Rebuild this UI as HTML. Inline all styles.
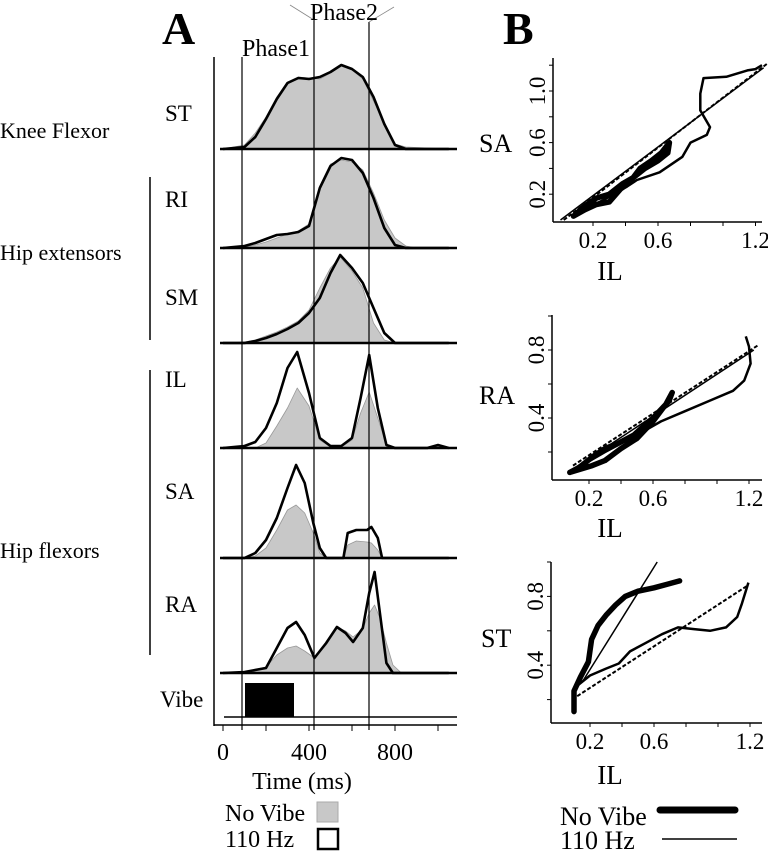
<!DOCTYPE html>
<html><head><meta charset="utf-8"><style>
html,body{margin:0;padding:0;background:#fff;}
svg{display:block;font-family:"Liberation Serif",serif;}
</style></head><body>
<svg id="fig" width="768" height="853" viewBox="0 0 768 853" xmlns="http://www.w3.org/2000/svg">
<g id="A">
<text x="162" y="44" font-size="46" font-weight="bold">A</text>
<text x="0" y="138" font-size="22">Knee Flexor</text>
<text x="0" y="260" font-size="22">Hip extensors</text>
<text x="0" y="558" font-size="22">Hip flexors</text>
<line x1="150" y1="177" x2="150" y2="340" stroke="#000" stroke-width="1.5"/>
<line x1="150" y1="370" x2="150" y2="655" stroke="#000" stroke-width="1.5"/>
<text x="165" y="121" font-size="23">ST</text>
<text x="165" y="207" font-size="23">RI</text>
<text x="165" y="305" font-size="23">SM</text>
<text x="165" y="387" font-size="23">IL</text>
<text x="165" y="499" font-size="23">SA</text>
<text x="165" y="612" font-size="23">RA</text>
<text x="160" y="707" font-size="23">Vibe</text>
<line x1="214" y1="57" x2="214" y2="726" stroke="#000" stroke-width="1.5"/>
<line x1="214" y1="725" x2="457" y2="725" stroke="#000" stroke-width="1.5"/>
<g id="traces"></g>
<line x1="224" y1="717" x2="457" y2="717" stroke="#000" stroke-width="1.5"/>
<rect x="245" y="683" width="49" height="34" fill="#000"/>
<line x1="242" y1="57" x2="242" y2="730" stroke="#000" stroke-width="1.2"/>
<line x1="314" y1="20" x2="314" y2="730" stroke="#000" stroke-width="1.2"/>
<line x1="369" y1="22" x2="369" y2="730" stroke="#000" stroke-width="1.2"/>
<line x1="290" y1="5" x2="314" y2="20" stroke="#888" stroke-width="0.8"/>
<line x1="394" y1="7" x2="369" y2="22" stroke="#888" stroke-width="0.8"/>
<text x="242" y="56" font-size="24">Phase1</text>
<text x="310" y="20" font-size="24">Phase2</text>
<g id="xticks"></g>
<text x="302" y="789" font-size="24" text-anchor="middle">Time (ms)</text>
<text x="225" y="821" font-size="24">No Vibe</text>
<rect x="317" y="802" width="21" height="20" fill="#c8c8c8" stroke="#aaa"/>
<text x="225" y="847" font-size="24">110 Hz</text>
<rect x="318" y="829" width="20" height="20" fill="#fff" stroke="#000" stroke-width="2.5"/>
</g>
<g id="B">
<text x="503" y="44" font-size="46" font-weight="bold">B</text>
<g id="scatters"></g>
<text x="560" y="825" font-size="26">No Vibe</text>
<line x1="660" y1="810" x2="735" y2="810" stroke="#000" stroke-width="7" stroke-linecap="round"/>
<text x="560" y="849" font-size="26">110 Hz</text>
<line x1="662" y1="839" x2="737" y2="839" stroke="#000" stroke-width="1.5"/>
</g>
</svg>
<script>
// ---- Panel A data (time ms, activation a.u.) ----
const stT  = [0,100,150,200,250,300,350,400,450,500,550,600,650,700,750,800,850,1050];
const stBlack=[0,2,12,30,50,66,71,70,72,77,84,80,72,52,25,4,0,0];
const stGray =[0,4,16,32,52,67,72,71,70,76,83,79,70,48,26,5,2,0];
const riT  = [0,100,150,200,250,300,350,400,450,500,550,600,650,700,750,800,850,900,1050];
const riBlack=[0,2,5,9,13,14,16,22,60,82,90,88,75,50,20,3,0,0,0];
const riGray =[0,1,3,6,10,14,17,24,62,84,88,86,78,55,28,10,2,0,0];
const smT  = [0,100,150,200,250,300,350,400,450,500,545,600,650,700,750,800,1050];
const smBlack=[0,0,2,5,9,14,20,30,45,70,88,75,60,35,10,0,0];
const smGray =[0,1,3,7,11,16,22,33,55,75,86,72,55,20,3,0,0];
const ilT  = [0,100,150,200,250,300,345,400,450,500,550,600,640,680,720,760,800,950,1000,1050];
const ilBlack=[0,2,6,20,45,80,96,55,10,2,2,10,50,93,40,3,0,0,3,0];
const ilGray =[0,0,0,5,22,40,60,42,8,1,1,8,35,56,30,3,0,0,1,0];
const saT  = [0,100,150,200,250,300,340,380,420,450,480,560,580,620,670,690,720,740,1050];
const saBlack=[0,0,5,18,40,70,93,75,35,10,0,0,25,28,28,31,20,0,0];
const saGray =[0,0,2,10,28,48,53,45,25,5,0,0,13,17,16,15,8,0,0];
const raT  = [0,100,200,250,300,340,380,425,480,530,570,605,650,680,705,730,760,790,830,1050];
const raBlack=[0,1,5,25,45,51,38,15,30,46,40,31,45,80,101,60,10,0,0,0];
const raGray =[0,1,6,18,25,27,22,15,28,46,42,36,44,60,68,55,30,8,0,0];
const timeTicks=[0,200,400,600,800,1000];
const timeLabels=["0","","400","","800",""];

const NS="http://www.w3.org/2000/svg";
function tx(t){return 223+t*0.215;}
function mk(tag,attrs,parent){const e=document.createElementNS(NS,tag);for(const k in attrs)e.setAttribute(k,attrs[k]);parent.appendChild(e);return e;}
const tr=document.getElementById('traces');
const traces=[["st",stT,stBlack,stGray,149],["ri",riT,riBlack,riGray,248],["sm",smT,smBlack,smGray,343],["il",ilT,ilBlack,ilGray,448],["sa",saT,saBlack,saGray,558],["ra",raT,raBlack,raGray,673]];
traces.forEach(([nm,T,B,G,base])=>{
  let ptsG=T.map((t,i)=>tx(t).toFixed(1)+","+(base-G[i]).toFixed(1));
  const area=mk('polygon',{points:tx(T[0])+","+base+" "+ptsG.join(" ")+" "+tx(T[T.length-1])+","+base,fill:"#c8c8c8",stroke:"#999","stroke-width":"0.8","stroke-linejoin":"round"},tr);
  
  
  const bl=mk('line',{x1:220,y1:base,x2:457,y2:base,stroke:"#000","stroke-width":"2.5"},tr);
  
  
  const ln=mk('polyline',{points:T.map((t,i)=>tx(t).toFixed(1)+","+(base-B[i]).toFixed(1)).join(" "),fill:"none",stroke:"#000","stroke-width":"2.6","stroke-linejoin":"round"},tr);
  
  
});
const xt=document.getElementById('xticks');
timeTicks.forEach((t,i)=>{
  const l=mk('line',{x1:tx(t),y1:725,x2:tx(t),y2:731,stroke:"#000","stroke-width":"1"},xt);
  
  
  if(timeLabels[i]){const s=mk('text',{x:tx(t),y:760,"font-size":"24","text-anchor":"middle"},xt);s.textContent=timeLabels[i];
  
  }
});

// ---- Panel B data (IL vs muscle) ----
const saThickX=[0.08,0.15,0.22,0.3,0.37,0.43,0.49,0.56,0.62,0.67,0.66,0.6,0.52,0.45,0.38,0.3,0.22,0.14,0.08];
const saThickY=[0.03,0.08,0.12,0.14,0.24,0.3,0.4,0.46,0.52,0.6,0.52,0.46,0.4,0.33,0.28,0.2,0.17,0.1,0.03];
const saThinX=[0.08,0.18,0.3,0.41,0.47,0.61,0.75,0.8,0.9,0.92,0.86,0.86,0.88,1.02,1.15,1.2,1.24];
const saThinY=[0.04,0.1,0.18,0.26,0.31,0.37,0.49,0.6,0.66,0.72,0.85,0.98,1.1,1.11,1.16,1.17,1.2];
const raThickX=[0.08,0.15,0.22,0.3,0.4,0.5,0.6,0.68,0.72,0.7,0.6,0.48,0.38,0.3,0.22,0.14,0.08];
const raThickY=[0.08,0.1,0.12,0.15,0.22,0.28,0.38,0.48,0.55,0.5,0.4,0.3,0.25,0.22,0.17,0.11,0.08];
const raThinX=[0.08,0.3,0.5,0.65,0.8,0.95,1.1,1.17,1.21,1.2,1.18];
const raThinY=[0.08,0.2,0.3,0.38,0.44,0.5,0.56,0.62,0.72,0.82,0.88];
const stThickX=[0.1,0.1,0.14,0.19,0.21,0.25,0.3,0.36,0.42,0.5,0.6,0.68,0.76];
const stThickY=[0.13,0.25,0.33,0.42,0.55,0.63,0.69,0.75,0.8,0.83,0.85,0.87,0.89];
const stThinX=[0.12,0.2,0.3,0.38,0.45,0.55,0.65,0.75,0.85,0.95,1.05,1.12,1.15,1.19];
const stThinY=[0.28,0.34,0.38,0.41,0.48,0.53,0.58,0.62,0.61,0.6,0.62,0.68,0.76,0.88];
const fitLines={sa:[[0,0,1.25,1.18],[0.02,0.0,1.27,1.21]],ra:[[0.1,0.1,1.23,0.8],[0.1,0.12,1.26,0.83]],st:[[0.15,0.3,0.62,1.0],[0.12,0.22,1.18,0.86]]};
const xTickVals=[0.2,0.4,0.6,0.8,1.0,1.2];
const xTickLabels=["0.2","","0.6","","","1.2"];

const plots=[
 {nm:"sa",ax:553,ay:222,top:58,x0:560.5,sx:162.5,y0:220,sy:129,yt:[0.2,0.4,0.6,0.8,1.0,1.2],yl:["0.2","","0.6","","1.0",""],lab:"SA",lx:479,ly:152,ilY:280,thk:[saThickX,saThickY],thn:[saThinX,saThinY]},
 {nm:"ra",ax:552,ay:480,top:315,x0:557,sx:160,y0:486,sy:170,yt:[0.2,0.4,0.6,0.8,1.0],yl:["","0.4","","0.8",""],lab:"RA",lx:479,ly:404,ilY:537,thk:[raThickX,raThickY],thn:[raThinX,raThinY]},
 {nm:"st",ax:551,ay:723,top:562,x0:558,sx:160,y0:734,sy:172,yt:[0.2,0.4,0.6,0.8,1.0],yl:["","0.4","","0.8",""],lab:"ST",lx:481,ly:647,ilY:784,thk:[stThickX,stThickY],thn:[stThinX,stThinY]}];
const sc=document.getElementById('scatters');
plots.forEach(p=>{
  const X=v=>p.x0+v*p.sx, Y=v=>p.y0-v*p.sy;
  const g=mk('g',{},sc);
  
  
  const ya=mk('line',{x1:p.ax,y1:p.top,x2:p.ax,y2:p.ay,stroke:"#000","stroke-width":"1.5"},g);
  
  
  const xa=mk('line',{x1:p.ax,y1:p.ay,x2:762,y2:p.ay,stroke:"#000","stroke-width":"1.5"},g);
  
  
  xTickVals.forEach((v,i)=>{
    const t=mk('line',{x1:X(v),y1:p.ay,x2:X(v),y2:p.ay+4,stroke:"#000"},g);
    
    
    if(xTickLabels[i]){const s=mk('text',{x:X(v),y:p.ay+26,"font-size":"23","text-anchor":"middle"},g);s.textContent=xTickLabels[i];
    
    }
  });
  p.yt.forEach((v,i)=>{
    const t=mk('line',{x1:p.ax-4,y1:Y(v),x2:p.ax,y2:Y(v),stroke:"#000"},g);
    
    
    if(p.yl[i]){const s=mk('text',{x:p.ax-8,y:Y(v),"font-size":"23","text-anchor":"middle",transform:`rotate(-90 ${p.ax-8} ${Y(v)})`},g);s.textContent=p.yl[i];
    
    }
  });
  const yl=mk('text',{x:p.lx,y:p.ly,"font-size":"26"},g);yl.textContent=p.lab;
  
  
  const xl=mk('text',{x:610,y:p.ilY,"font-size":"27","text-anchor":"middle"},g);xl.textContent="IL";
  
  
  const [f1,f2]=fitLines[p.nm];
  const l1=mk('line',{x1:X(f1[0]),y1:Y(f1[1]),x2:X(f1[2]),y2:Y(f1[3]),stroke:"#000","stroke-width":"1.5"},g);
  
  
  const l2=mk('line',{x1:X(f2[0]),y1:Y(f2[1]),x2:X(f2[2]),y2:Y(f2[3]),stroke:"#000","stroke-width":"2","stroke-dasharray":"4,2"},g);
  
  
  const th=mk('polyline',{points:p.thn[0].map((v,i)=>X(v).toFixed(1)+","+Y(p.thn[1][i]).toFixed(1)).join(" "),fill:"none",stroke:"#000","stroke-width":"2.5","stroke-linejoin":"round"},g);
  
  
  const tk=mk('polyline',{points:p.thk[0].map((v,i)=>X(v).toFixed(1)+","+Y(p.thk[1][i]).toFixed(1)).join(" "),fill:"none",stroke:"#000","stroke-width":"5.5","stroke-linejoin":"round","stroke-linecap":"round"},g);
  
  
});
</script>
</body></html>
